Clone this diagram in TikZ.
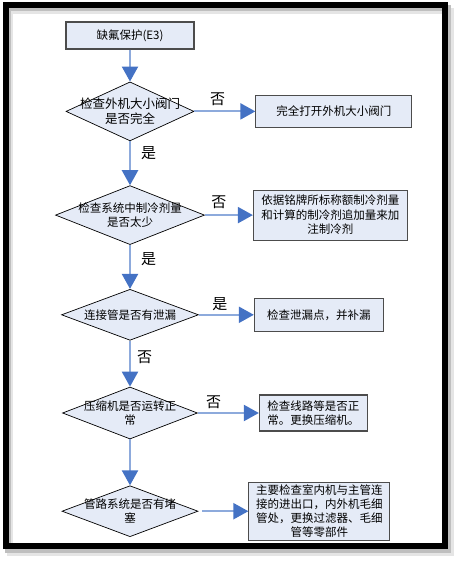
\documentclass[tikz,border=0pt]{standalone}
\usepackage{fontspec}
\newfontfamily\cjk{Noto Sans CJK SC}
\usetikzlibrary{shapes.geometric,arrows.meta,positioning}
\definecolor{boxfill}{RGB}{229,235,247}
\definecolor{linkblue}{RGB}{141,170,220}
\definecolor{tipblue}{RGB}{68,114,196}
\begin{document}
\begin{tikzpicture}[x=1pt,y=-1pt,
        node distance=44pt,
        box/.style={draw=black!70,line width=1.1pt,fill=boxfill,inner sep=2pt,
                    font=\cjk\fontsize{11.5}{14.5}\selectfont,align=center},
        check/.style={diamond,draw,line width=0.7pt,fill=boxfill,aspect=2.5,
                      inner xsep=-40pt,inner ysep=-10pt,
                      font=\cjk\fontsize{11.5}{14.5}\selectfont,align=center},
        arr/.style={line width=2.2pt,linkblue,
                    -{Triangle[length=15pt,width=16pt,color=tipblue]}},
        tag/.style={font=\cjk\fontsize{15}{15}\selectfont,inner sep=1pt,text=black}]
        \useasboundingbox (0,0) rectangle (460,561);
        % frame with its shadow
        \draw[line width=6pt,black!10] (10,11) rectangle (450.5,552.5);
        \draw[line width=6pt,black!25] (8,8.5) rectangle (448,549.5);
        \draw[line width=6pt] (5.5,5.5) rectangle (445,545.5);
        \node[box,minimum width=128pt,minimum height=27pt] (start) at (130,35.5) {缺氟保护(E3)};
        \node[check,below=32pt of start,minimum width=128pt,minimum height=59pt,
              font=\cjk\fontsize{12.5}{14.5}\selectfont] (valve) {检查外机大小阀门\\是否完全};
        \node[box,right=61pt of valve,minimum width=156pt,minimum height=32pt] (open) {完全打开外机大小阀门};
        \node[check,below=of valve,minimum width=149pt,minimum height=59pt] (charge) {检查系统中制冷剂量\\是否太少};
        \node[box,right=48pt of charge,minimum width=154pt,minimum height=50pt] (refill)
             {依据铭牌所标称额制冷剂量\\和计算的制冷剂追加量来加\\注制冷剂};
        \node[check,below=of charge,minimum width=137pt,minimum height=51pt] (leak) {连接管是否有泄漏};
        \node[box,right=55pt of leak,minimum width=129pt,minimum height=33pt] (patch) {检查泄漏点，并补漏};
        \node[check,below=46pt of leak,minimum width=135pt,minimum height=52pt] (comp) {压缩机是否运转正\\常};
        \node[box,right=61pt of comp,minimum width=108pt,minimum height=36pt,align=left] (swap)
             {检查线路等是否正\\常。更换压缩机。};
        \node[check,below=46pt of comp,minimum width=136pt,minimum height=51pt] (pipe) {管路系统是否有堵\\塞};
        \node[box,right=50pt of pipe,minimum width=141pt,minimum height=58pt,
              font=\cjk\fontsize{11.5}{14}\selectfont] (clean)
             {主要检查室内机与主管连\\接的进出口，内外机毛细\\管处，更换过滤器、毛细\\管等零部件};
        \draw[arr] (start) -- (valve);
        \draw[arr] (valve) -- node[tag,pos=0.38,above=4pt]{否} (open);
        \draw[arr] (valve) -- node[tag,pos=0.27,right=9pt]{是} (charge);
        \draw[arr] (charge) -- node[tag,pos=0.29,above=4pt]{否} (refill);
        \draw[arr] (charge) -- node[tag,pos=0.32,right=9pt]{是} (leak);
        \draw[arr] (leak) -- node[tag,pos=0.38,above=2pt]{是} (patch);
        \draw[arr] (leak) -- node[tag,pos=0.37,right=5pt]{否} (comp);
        \draw[arr] (comp) -- node[tag,pos=0.26,above=2pt]{否} (swap);
        \draw[arr] (comp) -- (pipe);
        \draw[arr,shorten <=4pt] (pipe) -- (clean);
      \end{tikzpicture}
\end{document}
